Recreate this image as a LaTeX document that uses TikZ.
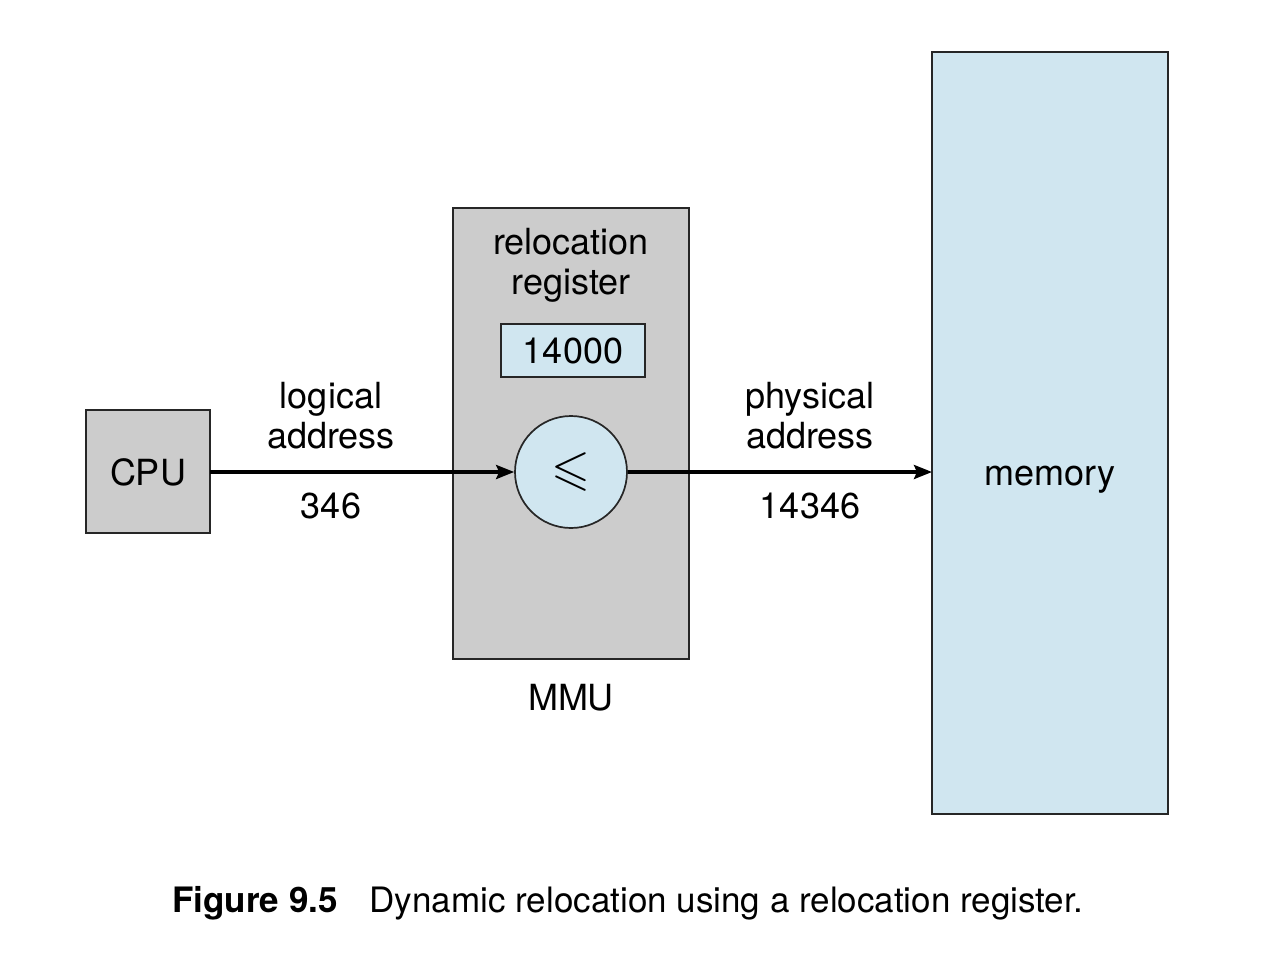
\documentclass[tikz,border=0pt]{standalone}
\usepackage{fontspec}
\usepackage{amssymb}
\setmainfont{TeX Gyre Heros}
\usetikzlibrary{arrows.meta}
\definecolor{boxgray}{HTML}{CCCCCC}
\definecolor{lightblue}{HTML}{D0E6F0}
\begin{document}
\begin{tikzpicture}[x=1pt,y=-1pt,
  lbl/.style={font=\fontsize{36}{40}\selectfont, align=center, inner sep=0pt},
  unit/.style={draw=black!85, line width=1.7pt},
  flow/.style={line width=3.4pt, -{Stealth[length=18pt,width=14pt,inset=3pt]}}]
\useasboundingbox (0,0) rectangle (1268,954);
% boxes
\draw[unit, fill=boxgray] (86,410) rectangle (210,533);
\node[lbl, anchor=base] (cpu) at (148,485) {CPU};
\coordinate (cpuout) at (210,472);
\draw[unit, fill=boxgray] (453,208) rectangle (689,659);
\draw[unit, fill=lightblue] (501,324) rectangle (645,377);
\node[lbl] (reg) at (573,351) {14000};
\node[lbl] (rel) at (571,265) {relocation\\register};
\node[unit, circle, fill=lightblue, minimum size=112pt, inner sep=0pt] (cmp) at (571,472) {\fontsize{50}{50}\selectfont$\leqslant$};
\node[lbl] (mmu) at (571,698) {MMU};
\draw[unit, fill=lightblue] (932,52) rectangle (1168,814);
\coordinate (memin) at (932,472);
\node[lbl, anchor=base] (mem) at (1050,485) {memory};
% connectors
\draw[flow] (cpuout) -- (cmp.west);
\draw[flow] (cmp.east) -- (memin);
% labels
\node[lbl] (la) at (331,416) {logical\\address};
\node[lbl] (lv) at (331,506) {346};
\node[lbl] (pa) at (810,416) {physical\\address};
\node[lbl] (pv) at (810,506) {14346};
% caption
\node[anchor=west, inner sep=0pt, font=\fontsize{35}{40}\selectfont] (cap) at (172,903) {\textbf{Figure 9.5}\hspace{32pt}Dynamic relocation using a relocation register.};
\end{tikzpicture}
\end{document}
